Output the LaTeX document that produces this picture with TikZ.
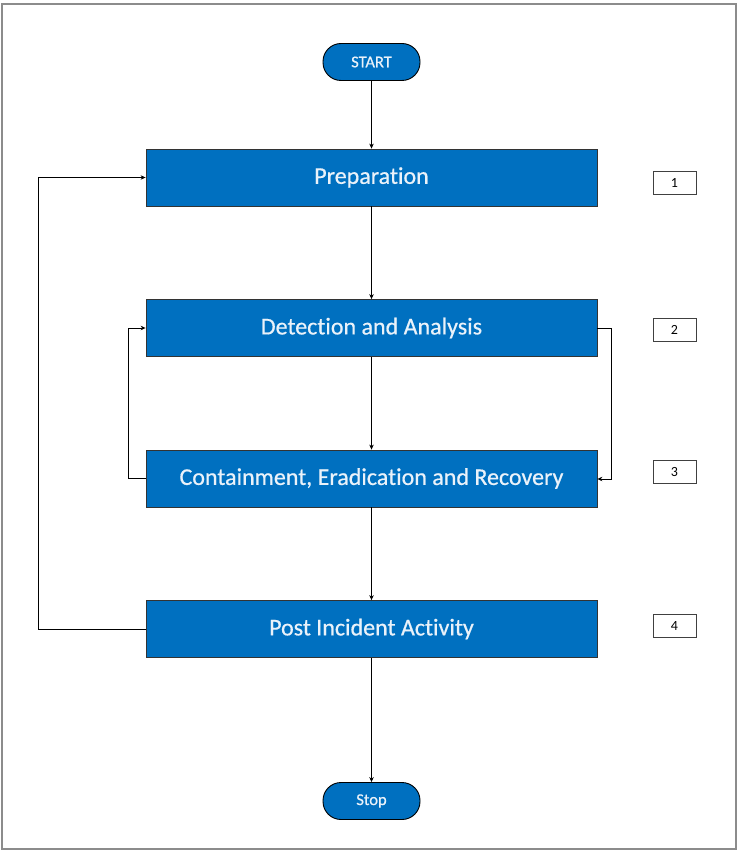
\documentclass[tikz,border=0pt]{standalone}
\usepackage{fontspec}
\setmainfont[Ligatures=NoCommon]{Carlito}
\newfontfamily\boxfont[Ligatures=NoCommon,FakeBold=0.6]{Carlito}
\usetikzlibrary{arrows.meta}
\definecolor{boxblue}{HTML}{0070C0}
\definecolor{boxtext}{HTML}{EAF2FA}
\begin{document}
\begin{tikzpicture}[x=1pt,y=-1pt,
  stepbox/.style={draw=black!80,line width=0.8pt,fill=boxblue,text=boxtext,minimum width=451pt,minimum height=57pt,inner sep=0pt,font=\boxfont\fontsize{24}{28}\selectfont},
  term/.style={draw=black,line width=0.9pt,fill=boxblue,text=boxtext,rounded corners=18pt,minimum width=97pt,minimum height=37pt,inner sep=0pt,font=\boxfont\fontsize{16.5}{19}\selectfont},
  numbox/.style={draw=black!75,line width=0.9pt,fill=white,minimum width=43pt,minimum height=23pt,inner sep=0pt,font=\fontsize{14}{16}\selectfont},
  conn/.style={draw=black,line width=0.7pt,-{Stealth[length=5pt,width=4.5pt]}}]
\useasboundingbox (0,0) rectangle (737,850);
\draw[black!45,line width=1.2pt] (2,4) rectangle (736,849);
\node[term] (start) at (371.5,62) {START};
\node[stepbox] (prep) at (371.5,177.5) {Preparation};
\node[stepbox] (det) at (371.5,328) {Detection and Analysis};
\node[stepbox] (cont) at (371.5,478.5) {Containment, Eradication and Recovery};
\node[stepbox] (post) at (371.5,629) {Post Incident Activity};
\node[term] (stop) at (371.5,801) {Stop};
\node[numbox] (n1) at (674.5,182.5) {1};
\node[numbox] (n2) at (674.5,330) {2};
\node[numbox] (n3) at (674.5,472) {3};
\node[numbox] (n4) at (674.5,626) {4};
\coordinate (r1) at (611,328);
\coordinate (r2) at (611,479);
\coordinate (l1) at (128,478.5);
\coordinate (l2) at (128,328);
\coordinate (b1) at (38,629);
\coordinate (b2) at (38,177.5);
\draw[conn] (start.south) -- (prep.north);
\draw[conn] (prep.south) -- (det.north);
\draw[conn] (det.south) -- (cont.north);
\draw[conn] (cont.south) -- (post.north);
\draw[conn] (post.south) -- (stop.north);
\draw[conn] (det.east) -- (r1) -- (r2) -- (r2 -| cont.east);
\draw[conn] (cont.west) -- (l1) -- (l2) -- (det.west);
\draw[conn] (post.west) -- (b1) -- (b2) -- (prep.west);
\end{tikzpicture}
\end{document}
